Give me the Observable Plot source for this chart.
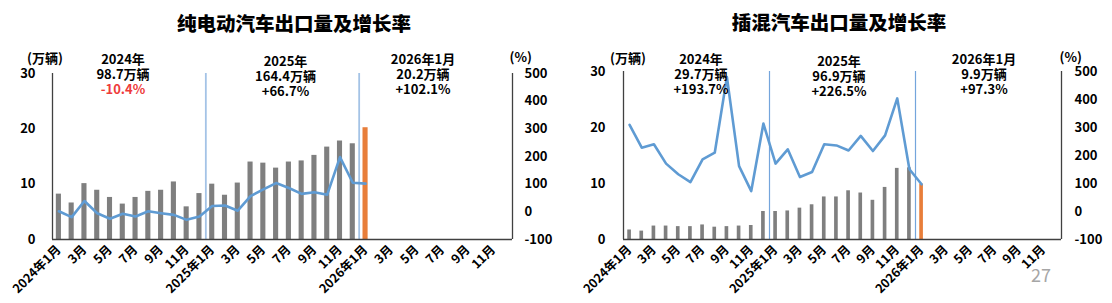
<!DOCTYPE html>
<html><head><meta charset="utf-8">
<script src="https://cdn.jsdelivr.net/npm/d3@7"></script>
<script src="https://cdn.jsdelivr.net/npm/@observablehq/plot@0.6"></script>
<style>
body{margin:0;background:#fff;}
#wrap{position:relative;width:1112px;height:303px;overflow:hidden;font-family:"Noto Sans CJK SC","Noto Sans",sans-serif;}
.panel{position:absolute;top:0;}
.lbl{position:absolute;transform:translate(-50%,-50%);white-space:nowrap;font-weight:700;color:#000;line-height:1;}
.note{position:absolute;transform:translateX(-50%);white-space:nowrap;font-weight:700;color:#000;text-align:center;font-size:13px;line-height:15px;}
</style></head><body><div id="wrap"></div>
<script>
// ---------- data ----------
const months = ["2024-01","2024-02","2024-03","2024-04","2024-05","2024-06","2024-07","2024-08","2024-09","2024-10","2024-11","2024-12",
  "2025-01","2025-02","2025-03","2025-04","2025-05","2025-06","2025-07","2025-08","2025-09","2025-10","2025-11","2025-12",
  "2026-01","2026-02","2026-03","2026-04","2026-05","2026-06","2026-07","2026-08","2026-09","2026-10","2026-11","2026-12"];
const tickMonths = ["2024-01","2024-03","2024-05","2024-07","2024-09","2024-11","2025-01","2025-03","2025-05","2025-07","2025-09","2025-11",
  "2026-01","2026-03","2026-05","2026-07","2026-09","2026-11"];
const tickLabels = ["2024年1月","3月","5月","7月","9月","11月","2025年1月","3月","5月","7月","9月","11月",
  "2026年1月","3月","5月","7月","9月","11月"];
const yearStarts = ["2025-01","2026-01"];
const leftTicks = [0,10,20,30];
const rightTicks = [-100,0,100,200,300,400,500];

// 纯电动 (万辆, %)
const bevVolume = [8.2,6.6,10.1,8.9,7.6,6.4,7.6,8.7,8.9,10.4,5.9,8.3,
                   10.0,8.0,10.2,14.0,13.8,12.9,14.0,14.2,15.2,16.7,17.8,17.3,
                   20.2];
const bevGrowth = [2,-19,39,-5,-25,-7,-17,2,-5,-11,-29,-17,
                   21,23,4,57,81,104,86,65,71,62,198,105,
                   102.1];
// 插混 (万辆, %)
const phevVolume = [1.7,1.5,2.4,2.4,2.3,2.3,2.6,2.2,2.3,2.4,2.5,5.0,
                    5.0,5.1,5.6,6.2,7.6,7.6,8.7,8.3,7.0,9.3,12.7,12.8,
                    9.9];
const phevGrowth = [309,228,240,171,133,105,186,210,480,162,73,314,
                    171,222,123,141,240,236,218,270,216,272,404,151,
                    97.3];

const bevTitle = "纯电动汽车出口量及增长率";
const phevTitle = "插混汽车出口量及增长率";
const bevNotes = [["2024年","98.7万辆","-10.4%"],["2025年","164.4万辆","+66.7%"],["2026年1月","20.2万辆","+102.1%"]];
const phevNotes = [["2024年","29.7万辆","+193.7%"],["2025年","96.9万辆","+226.5%"],["2026年1月","9.9万辆","+97.3%"]];
const unitLeft = "(万辆)", unitRight = "(%)";
const pageNo = "27";

// ---------- style ----------
const GRAY = "#7f7f7f", ORANGE = "#e87e3a", BLUE = "#5f9bd3", RED = "#ee3b3b", AXIS = "#404040";
const FONT = '"Noto Sans CJK SC","Noto Sans",sans-serif';
const toLeft = v => (v + 100) / 20;   // % -> 万辆 scale

const wrap = document.getElementById("wrap");

function panel(o) {
  const bars = o.vol.map((v, i) => ({i, v, last: i === o.vol.length - 1}));
  const line = o.growth.map((g, i) => ({i, y: toLeft(g)}));
  const seps = yearStarts.map(m => months.indexOf(m) - 0.5);
  const tIdx = tickMonths.map(m => months.indexOf(m));
  const svg = Plot.plot({
    width: o.width, height: 303,
    marginLeft: o.ml, marginRight: o.mr, marginTop: o.mt, marginBottom: o.mb,
    x: {domain: [-0.5, months.length - 0.5], axis: null, label: null},
    y: {domain: [0, 30], axis: null, label: null},
    style: {fontFamily: FONT, fontSize: "13px", fontWeight: 700, color: "#000", overflow: "visible", background: "transparent"},
    marks: [
      Plot.rectY(bars.filter(d => !d.last), {x1: d => d.i - o.bh, x2: d => d.i + o.bh, y1: 0, y2: "v", fill: GRAY}),
      Plot.rectY(bars.filter(d => d.last), {x1: d => d.i - o.bh, x2: d => d.i + o.bh, y1: 0, y2: "v", fill: ORANGE}),
      Plot.ruleX(seps, {stroke: o.sepColor, strokeWidth: o.sepWidth}),
      Plot.line(line, {x: "i", y: "y", stroke: BLUE, strokeWidth: 2.6, strokeLinejoin: "round"}),
      Plot.ruleX([-0.5, months.length - 0.5], {stroke: AXIS, strokeWidth: 1.3}),
      Plot.ruleY([0], {stroke: AXIS, strokeWidth: 1.3}),
      Plot.axisY(leftTicks, {anchor: "left", tickSize: 0, tickPadding: o.padL, fontSize: 13, fontWeight: 700, label: null}),
      Plot.axisY(rightTicks.map(toLeft), {anchor: "right", tickSize: 0, tickPadding: o.padR, fontSize: 13, fontWeight: 700, label: null,
        tickFormat: d => String(Math.round(d * 20 - 100))}),
      Plot.axisX(tIdx, {anchor: "bottom", tickSize: 0, tickPadding: 8, tickRotate: -45, fontSize: 12.5, fontWeight: 700, label: null,
        tickFormat: d => tickLabels[tIdx.indexOf(d)]})
    ]
  });
  svg.classList.add("panel");
  svg.style.left = o.left + "px";
  wrap.appendChild(svg);
}

panel({left: 0, width: 556, ml: 52, mr: 44, mt: 73, mb: 64, vol: bevVolume, growth: bevGrowth, bh: 0.2,
       sepColor: "#a4c3e6", sepWidth: 1.8, padL: 17, padR: 12});
panel({left: 556, width: 556, ml: 67, mr: 51, mt: 71, mb: 64, vol: phevVolume, growth: phevGrowth, bh: 0.15,
       sepColor: "#74a5dc", sepWidth: 1.2, padL: 18, padR: 13});

function label(text, x, y, size, color, weight) {
  const d = document.createElement("div");
  d.className = "lbl";
  d.textContent = text;
  d.style.left = x + "px"; d.style.top = y + "px";
  d.style.fontSize = size + "px";
  if (color) d.style.color = color;
  if (weight) d.style.fontWeight = weight;
  wrap.appendChild(d);
}
function note(lines, x, top) {
  const d = document.createElement("div");
  d.className = "note";
  d.style.left = x + "px"; d.style.top = top + "px";
  lines.forEach((t, j) => {
    if (j) d.appendChild(document.createElement("br"));
    const s = document.createElement("span");
    s.textContent = t;
    if (t.startsWith("-")) s.style.color = RED;
    d.appendChild(s);
  });
  wrap.appendChild(d);
}
label(bevTitle, 294, 23, 19.5, null, 900);
label(phevTitle, 839, 22, 19.5, null, 900);
label(unitLeft, 45, 56.7, 13); label(unitRight, 520.7, 55.7, 13);
label(unitLeft, 628, 56.7, 13); label(unitRight, 1070.7, 55.7, 13);

const bevPos = [[123, 58.3], [285.5, 60], [423, 58.3]];
const phevPos = [[701, 58], [839, 60], [984, 58]];
bevNotes.forEach((n, k) => note(n, bevPos[k][0], bevPos[k][1] - 7.5));
phevNotes.forEach((n, k) => note(n, phevPos[k][0], phevPos[k][1] - 7.5));
label(pageNo, 1041, 274, 18, "#a6a6a6", 400);
</script></body></html>
